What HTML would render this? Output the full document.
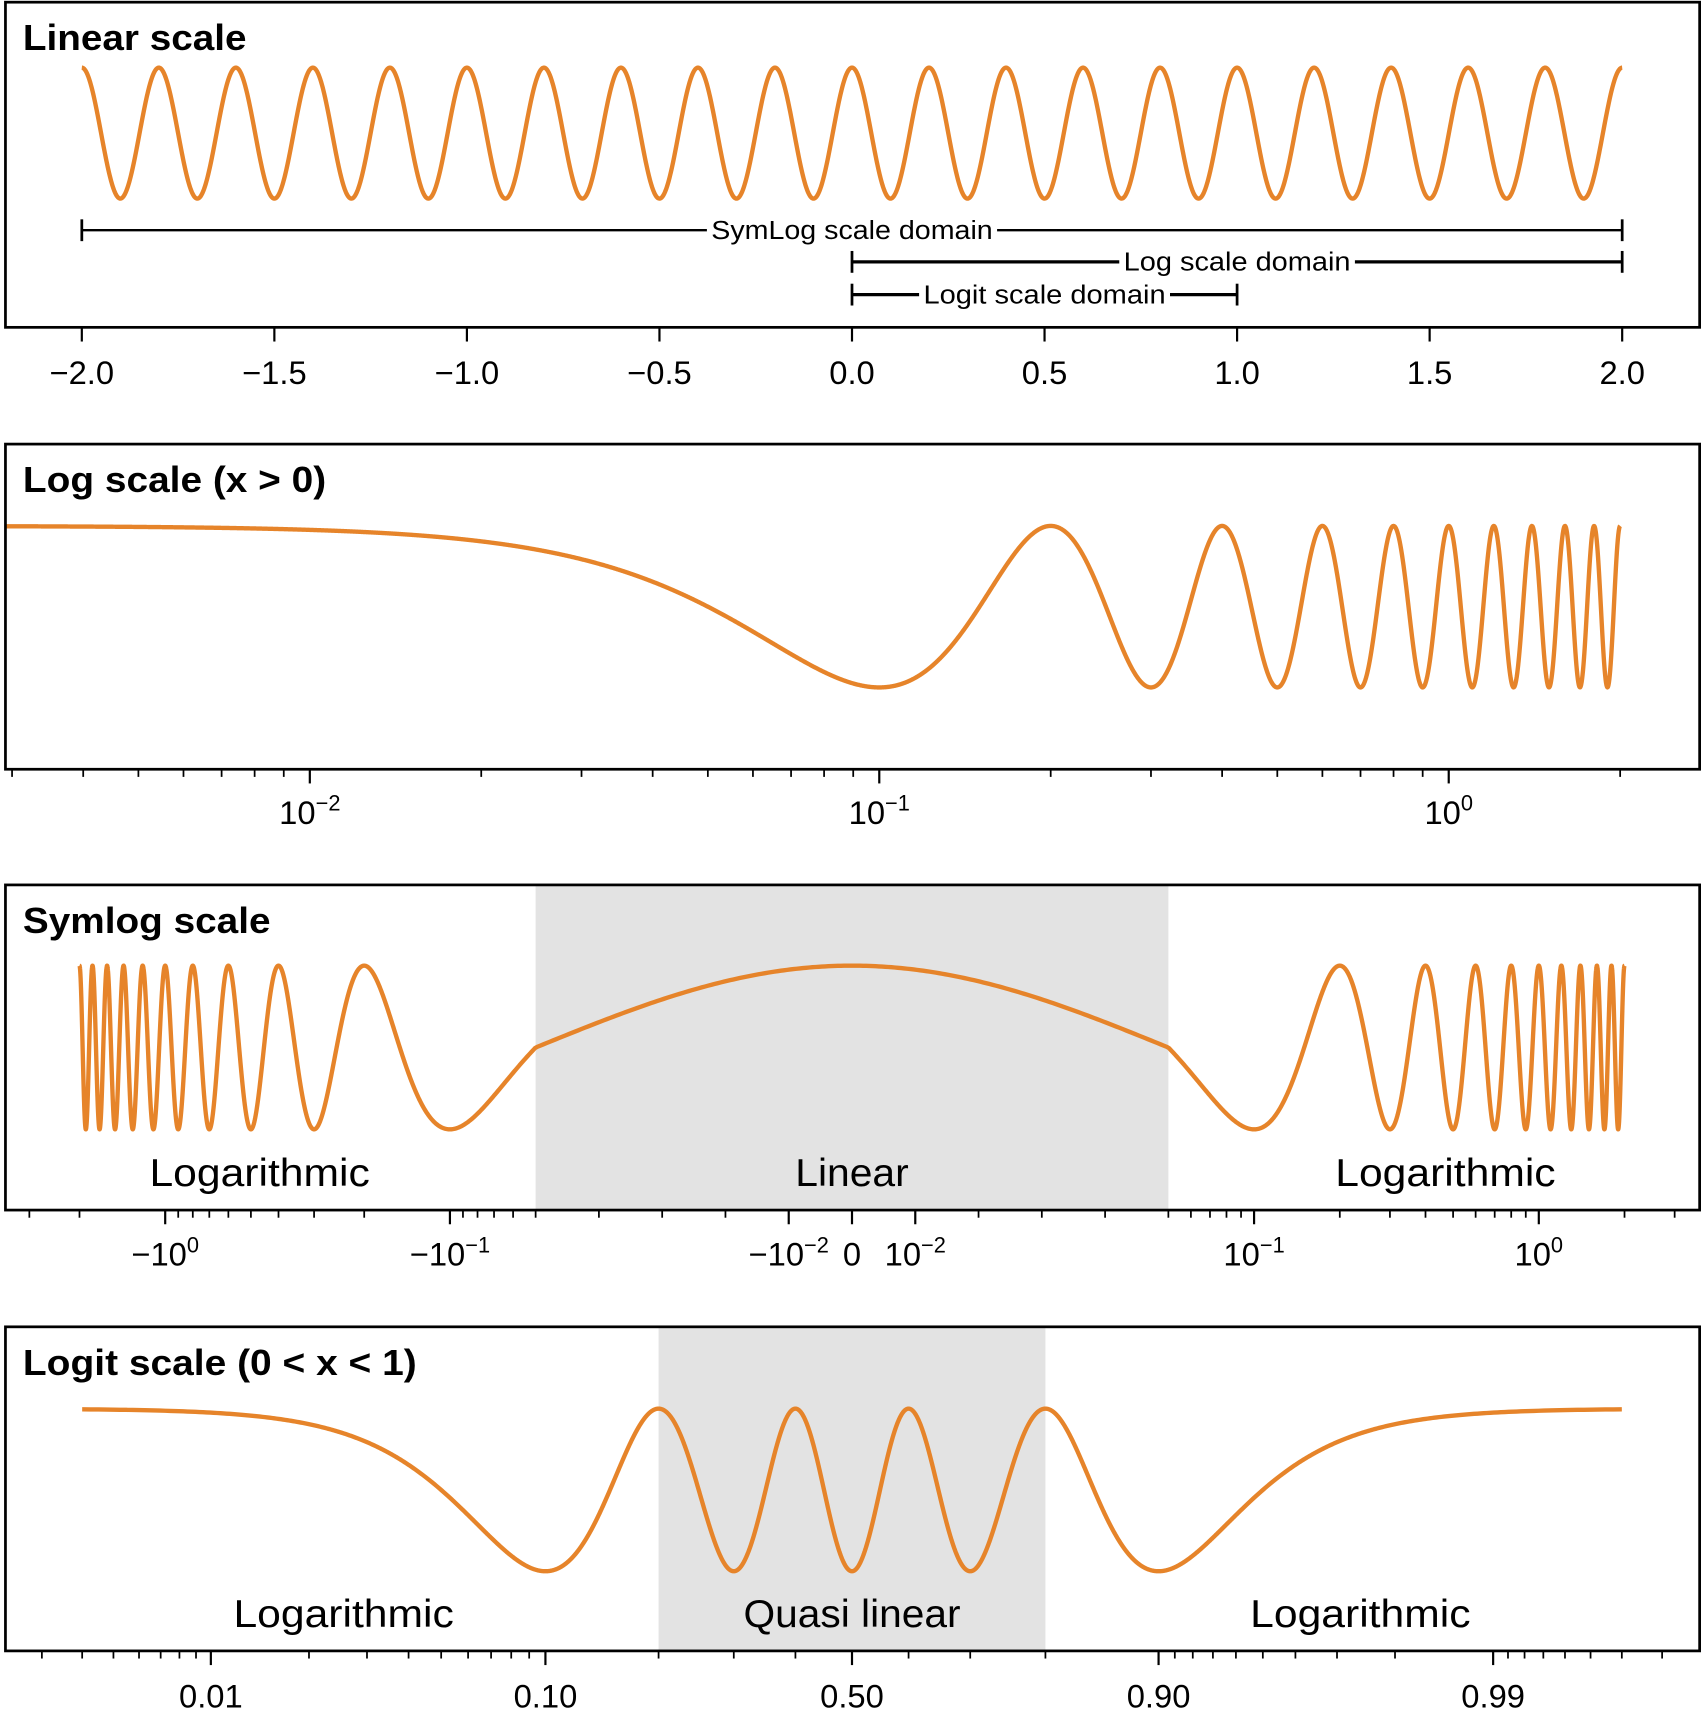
<!DOCTYPE html>
<html><head><meta charset="utf-8"><style>
html,body{margin:0;padding:0;background:#fff}
svg{display:block}
text{font-family:"Liberation Sans",sans-serif;fill:#000}
</style></head><body>
<svg id="chart" width="1704" height="1712" viewBox="0 0 1562 1569" preserveAspectRatio="none" xmlns="http://www.w3.org/2000/svg"></svg>
<script>
// ---- data ----
const curveFrequency = [10];           // y = cos(freq * pi * x)
const linearTicks = [-2.0,-1.5,-1.0,-0.5,0.0,0.5,1.0,1.5,2.0];
const linearTickLabels = ["\u22122.0","\u22121.5","\u22121.0","\u22120.5","0.0","0.5","1.0","1.5","2.0"];
const logMajorExps = [-2,-1,0];
const symlogMajor = [-1,-0.1,-0.01,0,0.01,0.1,1];
const symlogLabels = [["\u221210","0"],["\u221210","\u22121"],["\u221210","\u22122"],["0",""],["10","\u22122"],["10","\u22121"],["10","0"]];
const logitMajor = [0.01,0.1,0.5,0.9,0.99];
const logitLabels = ["0.01","0.10","0.50","0.90","0.99"];
const domainNames = ["SymLog scale domain","Log scale domain","Logit scale domain"];
const domainStart = [-2,0,0];
const domainEnd = [2,2,1];

const NS="http://www.w3.org/2000/svg";
const svg=document.getElementById('chart');
function mk(tag,attrs,parent){const e=document.createElementNS(NS,tag);for(const k in attrs)e.setAttribute(k,attrs[k]);(parent||svg).appendChild(e);return e;}
const COLOR="#e6842a";
const f=x=>Math.cos(curveFrequency[0]*Math.PI*x);
const L=5,R=1558;

function panel(top,bottom,title,name){
  const g=mk('g',{});
  
  
  const cp=mk('clipPath',{id:'c'+top},g);
  mk('rect',{x:L,y:top,width:R-L,height:bottom-top},cp);
  return g;
}
function frame(g,top,bottom){
  const r=mk('rect',{x:L,y:top,width:R-L,height:bottom-top,fill:'none',stroke:'#000','stroke-width':2.5},g);
  
  
}
function titleText(g,top,t,w){
  const e=mk('text',{x:21,y:top+44,'font-size':33,'font-weight':'bold',textLength:w,lengthAdjust:'spacingAndGlyphs'},g);e.textContent=t;
  
  
}
function curve(g,top,xs,px,yTop,yBot){
  let d='';
  xs.forEach((x,i)=>{const X=px(x),Y=yTop+(1-f(x))/2*(yBot-yTop);d+=(i?'L':'M')+X.toFixed(2)+','+Y.toFixed(2);});
  const p=mk('path',{d:d,fill:'none',stroke:COLOR,'stroke-width':4,'stroke-linejoin':'round','clip-path':'url(#c'+top+')'},g);
  
  
}
function tick(g,X,bottom,major){
  if(X<L||X>R)return;
  const t=mk('line',{x1:X,x2:X,y1:bottom,y2:bottom+(major?13:7),stroke:'#000','stroke-width':major?2:1.6},g);
  
  
}
function label(g,X,y,base,sup,size){
  const e=mk('text',{x:X,y:y,'font-size':size||30,'text-anchor':'middle'},g);
  e.textContent=base;
  if(sup){const s=mk('tspan',{dy:-12,'font-size':20},e);s.textContent=sup;}
  
  
  return e;
}
function region(g,X,y,t,w){
  const e=mk('text',{x:X,y:y,'font-size':36,'text-anchor':'middle',textLength:w,lengthAdjust:'spacingAndGlyphs'},g);e.textContent=t;
  
  
}
function shade(g,x1,x2,top,bottom){
  const r=mk('rect',{x:x1,y:top,width:x2-x1,height:bottom-top,fill:'#e3e3e3'},g);
  
  
}
function lin(a,b,n){const o=[];for(let i=0;i<n;i++)o.push(a+(b-a)*i/(n-1));return o;}

// ---- Panel 1: linear ----
{
  const top=2,bottom=300,g=panel(top,bottom,'','linear-scale-panel');
  const px=x=>781+x*353;
  curve(g,top,lin(-2,2,3000),px,62,182);
  const ys=[211,240,270],sw=[2.2,3,3],tw=[258,208,222];
  domainNames.forEach((n,i)=>{
    const a=px(domainStart[i]),b=px(domainEnd[i]),c=(a+b)/2;
    const t=mk('text',{x:c,y:ys[i]+8,'font-size':24,'text-anchor':'middle',textLength:tw[i],lengthAdjust:'spacingAndGlyphs'},g);t.textContent=n;
    
    
    const w=tw[i]+8;
    const l1=mk('line',{x1:a,x2:c-w/2,y1:ys[i],y2:ys[i],stroke:'#000','stroke-width':sw[i]},g);
    
    
    const l2=mk('line',{x1:c+w/2,x2:b,y1:ys[i],y2:ys[i],stroke:'#000','stroke-width':sw[i]},g);
    
    
    [a,b].forEach(X=>{const c2=mk('line',{x1:X,x2:X,y1:ys[i]-10,y2:ys[i]+10,stroke:'#000','stroke-width':2.5},g);
      
      });
  });
  frame(g,top,bottom);titleText(g,top,'Linear scale',205);
  linearTicks.forEach((v,i)=>{tick(g,px(v),bottom,true);label(g,px(v),bottom+52,linearTickLabels[i]);});
}
// ---- Panel 2: log ----
{
  const top=407,bottom=705,g=panel(top,bottom,'','log-scale-panel');
  const px=x=>1328+Math.log10(x)*522;
  const xs=[];for(let i=0;i<=4000;i++)xs.push(Math.pow(10,-3+Math.log10(2/0.001)*i/4000));
  curve(g,top,xs,px,482,630);
  frame(g,top,bottom);titleText(g,top,'Log scale (x > 0)',278);
  for(let e=-3;e<=0;e++)for(let m=2;m<=9;m++)tick(g,px(m*Math.pow(10,e)),bottom,false);
  logMajorExps.forEach(e=>{tick(g,px(Math.pow(10,e)),bottom,true);label(g,px(Math.pow(10,e)),bottom+50,'10',String(e).replace('-','\u2212'));});
}
// ---- Panel 3: symlog ----
{
  const top=811,bottom=1109,g=panel(top,bottom,'','symlog-scale-panel');
  const lt=0.05,ls=1/(1-0.1);
  const T=x=>Math.abs(x)<=lt?x/lt*ls:Math.sign(x)*(ls+Math.log10(Math.abs(x)/lt));
  const px=x=>781+T(x)*261;
  shade(g,px(-lt),px(lt),top,bottom);
  curve(g,top,lin(-2,2,8000),px,885,1035);
  frame(g,top,bottom);titleText(g,top,'Symlog scale',227);
  region(g,238,1087,'Logarithmic',202);region(g,781,1087,'Linear',104);region(g,1325,1087,'Logarithmic',202);
  const minors=[];
  for(const e of [-2,-1,0])for(let m=2;m<=9;m++)minors.push(m*Math.pow(10,e));
  minors.forEach(v=>{tick(g,px(v),bottom,false);tick(g,px(-v),bottom,false);});
  symlogMajor.forEach((v,i)=>{tick(g,px(v),bottom,true);label(g,px(v),bottom+51,symlogLabels[i][0],symlogLabels[i][1]);});
}
// ---- Panel 4: logit ----
{
  const top=1216,bottom=1513,g=panel(top,bottom,'','logit-scale-panel');
  const px=x=>781+Math.log10(x/(1-x))*294.5;
  shade(g,px(0.2),px(0.8),top,bottom);
  curve(g,top,lin(0.004,0.996,4000),px,1291,1440);
  frame(g,top,bottom);titleText(g,top,'Logit scale (0 < x < 1)',361);
  region(g,315,1491,'Logarithmic',202);region(g,781,1491,'Quasi linear',199);region(g,1247,1491,'Logarithmic',202);
  const minors=[];
  for(let m=2;m<=9;m++){minors.push(m*0.001);minors.push(m*0.01);minors.push(1-m*0.001);minors.push(1-m*0.01);}
  [0.2,0.3,0.4,0.6,0.7,0.8].forEach(v=>minors.push(v));
  minors.forEach(v=>tick(g,px(v),bottom,false));
  logitMajor.forEach((v,i)=>{tick(g,px(v),bottom,true);label(g,px(v),bottom+52,logitLabels[i]);});
}
</script>
</body></html>
